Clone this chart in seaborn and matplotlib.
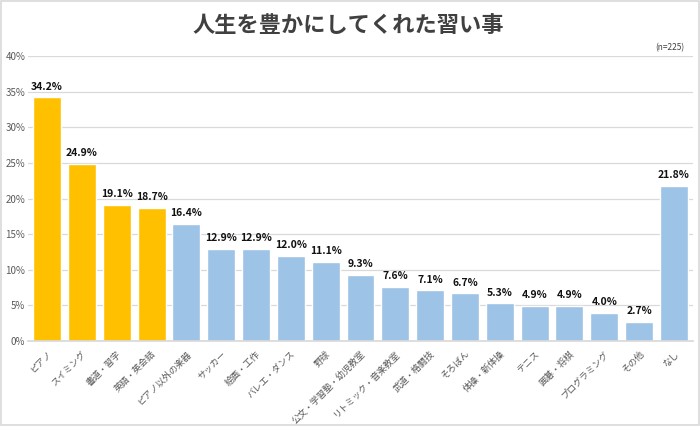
import matplotlib
matplotlib.use("Agg")
import matplotlib.pyplot as plt
import pandas as pd
import seaborn as sns
from matplotlib.patches import Rectangle
from matplotlib.ticker import FuncFormatter, MultipleLocator

CATEGORIES = [
    "ピアノ", "スイミング", "書道・習字", "英語・英会話", "ピアノ以外の楽器",
    "サッカー", "絵画・工作", "バレエ・ダンス", "野球", "公文・学習塾・幼児教室",
    "リトミック・音楽教室", "武道・格闘技", "そろばん", "体操・新体操", "テニス",
    "囲碁・将棋", "プログラミング", "その他", "なし",
]
VALUES = [34.2, 24.9, 19.1, 18.7, 16.4, 12.9, 12.9, 12.0, 11.1, 9.3,
          7.6, 7.1, 6.7, 5.3, 4.9, 4.9, 4.0, 2.7, 21.8]
GROUPS = ["top"] * 4 + ["other"] * 15
TITLE = "人生を豊かにしてくれた習い事"
NOTE = "(n=225)"

ORANGE = "#FFC000"
BLUE = "#9DC3E6"

sns.set_theme(style="white")
plt.rcParams["font.family"] = ["Noto Sans CJK JP", "DejaVu Sans"]

df = pd.DataFrame({"category": CATEGORIES, "value": VALUES, "group": GROUPS})

fig = plt.figure(figsize=(7.0, 4.26), dpi=100)
ax = fig.add_axes([0.040, 0.1995, 0.950, 0.669])

sns.barplot(data=df, x="category", y="value", hue="group",
            palette={"top": ORANGE, "other": BLUE}, dodge=False,
            width=0.8, legend=False, ax=ax, saturation=1)

for i, v in enumerate(VALUES):
    ax.text(i, v + 0.8, f"{v:.1f}%", ha="center", va="bottom",
            fontsize=7.5, fontweight="bold", color="#111111")

ax.set_ylim(0, 40)
ax.set_xlim(-0.55, len(CATEGORIES) - 0.45)
ax.yaxis.set_major_locator(MultipleLocator(5))
ax.yaxis.set_major_formatter(FuncFormatter(lambda y, _: f"{int(y)}%"))
ax.grid(axis="y", color="#D9D9D9", linewidth=0.9)
ax.set_axisbelow(True)
for s in ["left", "top", "right"]:
    ax.spines[s].set_visible(False)
ax.spines["bottom"].set_color("#D9D9D9")
ax.set_xlabel("")
ax.set_ylabel("")
ax.tick_params(axis="y", labelsize=7, colors="#595959", length=0, pad=2)
ax.tick_params(axis="x", length=0, pad=6)
ax.set_xticks(range(len(CATEGORIES)))
ax.set_xticklabels(CATEGORIES, rotation=45, ha="right", rotation_mode="anchor",
                   fontsize=6.5, color="#595959")

fig.text(0.497, 0.941, TITLE, ha="center", va="center", fontsize=16,
         fontweight="bold", color="#404040")
fig.text(0.977, 0.888, NOTE, ha="right", va="center", fontsize=6, color="#404040")

fig.patches.append(Rectangle((0.001, 0.002), 0.997, 0.995, transform=fig.transFigure,
                             fill=False, edgecolor="#D9D9D9", linewidth=1.2))

fig.savefig("out.png", dpi=100)
